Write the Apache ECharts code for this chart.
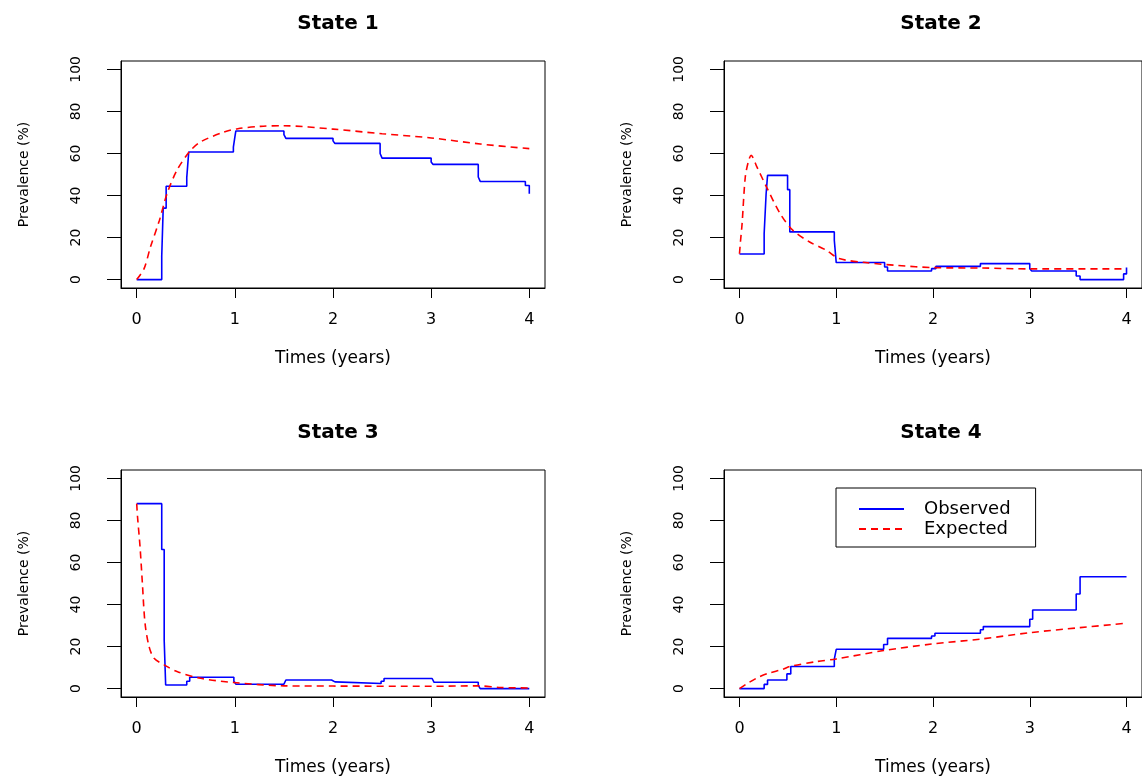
<!DOCTYPE html>
<html>
<head>
<meta charset="utf-8">
<title>Prevalence by state</title>
<script src="https://cdn.jsdelivr.net/npm/echarts@6/dist/echarts.min.js"></script>
<style>
    html, body {margin: 0; padding: 0; background: #fff;}
    #chartDiv {width: 1142px; height: 777px;}
</style>
</head>
<body>
<div id="chartDiv"></div>
<script>
var stateNames = ['State 1', 'State 2', 'State 3', 'State 4'];
var xTicks = [0, 1, 2, 3, 4];
var yTicks = [0, 20, 40, 60, 80, 100];

// observed prevalence (step) - change times and new values
var obsTime1 = [0, 0.255, 0.27, 0.30, 0.51, 0.53, 0.985, 1.0, 1.01, 1.50, 1.52, 2.0, 2.02, 2.48, 2.5, 3.0, 3.02, 3.48, 3.5, 3.96, 4.0];
var obsValue1 = [0, 11, 34, 44.4, 48.5, 60.7, 63, 67.8, 70.7, 69, 67.2, 66, 64.8, 60, 57.8, 56, 54.8, 48.8, 46.7, 44.8, 40.9];
var obsTime2 = [0, 0.255, 0.275, 0.29, 0.497, 0.52, 0.98, 1.0, 1.5, 1.53, 1.985, 2.03, 2.49, 3.0, 3.02, 3.48, 3.52, 3.97, 4.0];
var obsValue2 = [12.2, 21.9, 40.6, 49.6, 42.8, 22.7, 18.7, 8.1, 6.0, 4.1, 5.2, 6.3, 7.6, 5.2, 4.1, 1.7, 0, 2.7, 5.7];
var obsTime3 = [0, 0.255, 0.28, 0.295, 0.51, 0.54, 0.99, 1.01, 1.5, 1.52, 1.985, 2.02, 2.49, 2.52, 3.01, 3.03, 3.48, 3.5, 4.0];
var obsValue3 = [88, 66.2, 23.1, 1.7, 3.5, 5.4, 3.5, 2.1, 3.0, 4.1, 3.2, 2.4, 3.5, 4.8, 3.9, 3.0, 1.5, 0, 0.3];
var obsTime4 = [0, 0.255, 0.29, 0.49, 0.53, 0.98, 1.0, 1.49, 1.53, 1.985, 2.02, 2.49, 2.52, 3.0, 3.03, 3.48, 3.52, 4.0];
var obsValue4 = [0, 2, 4.1, 7, 10.5, 14, 18.7, 21, 23.9, 25, 26.3, 28, 29.5, 33, 37.4, 45, 53.2, 53.2];

// expected prevalence (model)
var expTime1 = [0, 0.075, 0.14, 0.23, 0.31, 0.41, 0.54, 0.65, 0.89, 1.03, 1.26, 1.5, 2.0, 2.5, 3.0, 3.5, 4.0];
var expValue1 = [0, 5.2, 15.5, 28, 41, 52, 61, 65.5, 70.2, 71.8, 72.9, 73.2, 71.6, 69.4, 67.4, 64.5, 62.3];
var expTime2 = [0, 0.01, 0.027, 0.06, 0.095, 0.12, 0.18, 0.28, 0.42, 0.55, 0.725, 0.9, 1.03, 1.3, 1.64, 2.0, 2.5, 3.0, 4.0];
var expValue2 = [12.3, 18, 26.6, 48.8, 56.7, 59.1, 53.6, 44, 31.4, 23.5, 17.9, 13.9, 10, 8.1, 6.7, 5.7, 5.5, 5.1, 5.1];
var expTime3 = [0, 0.008, 0.034, 0.058, 0.085, 0.126, 0.177, 0.28, 0.41, 0.65, 0.99, 1.5, 2.0, 3.0, 3.48, 3.71, 4.0];
var expValue3 = [88, 82, 67.5, 50, 31, 20, 14.4, 11.3, 8.1, 4.9, 2.9, 1.3, 1.2, 1.1, 1.3, 0.5, 0.3];
var expTime4 = [0, 0.1, 0.2, 0.3, 0.45, 0.52, 0.79, 1.0, 1.49, 1.985, 2.5, 3.0, 3.52, 4.0];
var expValue4 = [0, 3, 5.5, 7.3, 9.2, 10.5, 12.8, 14.1, 18.1, 21.2, 23.6, 26.6, 29, 31.1];

var obsTimes = [obsTime1, obsTime2, obsTime3, obsTime4];
var obsValues = [obsValue1, obsValue2, obsValue3, obsValue4];
var expTimes = [expTime1, expTime2, expTime3, expTime4];
var expValues = [expValue1, expValue2, expValue3, expValue4];

var FONT = 'DejaVu Sans';

function pairs(t, v) {
    var out = [];
    for (var i = 0; i < t.length; i++) {
        out.push([t[i], v[i]]);
    }
    return out;
}

function loadPrevalence() {
    var chart = echarts.init(document.getElementById('chartDiv'));
    var panelLeft = [121, 724, 121, 724];
    var panelTop = [61, 61, 470, 470];
    var titles = [], grids = [], xAxes = [], yAxes = [], series = [];

    for (var i = 0; i < 4; i++) {
        titles.push({
            text: stateNames[i],
            left: panelLeft[i] + 212,
            top: panelTop[i] - 52,
            textAlign: 'center',
            textStyle: {fontFamily: FONT, fontWeight: 'bold', fontSize: 20, color: '#000'}
        });
        grids.push({
            left: panelLeft[i], top: panelTop[i], width: 424, height: 227,
            show: true, borderColor: '#000', borderWidth: 1, backgroundColor: 'transparent'
        });
        xAxes.push({
            type: 'value', gridIndex: i, min: -0.16, max: 4.16,
            name: 'Times (years)', nameLocation: 'middle', nameGap: 62,
            nameTextStyle: {fontFamily: FONT, fontSize: 17, color: '#000'},
            axisLine: {show: true, onZero: false, lineStyle: {color: '#000', width: 1}},
            axisTick: {show: true, inside: false, length: 10, customValues: xTicks, lineStyle: {color: '#000'}},
            axisLabel: {customValues: xTicks, margin: 24, fontFamily: FONT, fontSize: 16, color: '#000'},
            splitLine: {show: false}
        });
        yAxes.push({
            type: 'value', gridIndex: i, min: -4, max: 104,
            name: 'Prevalence (%)', nameLocation: 'middle', nameGap: 90,
            nameTextStyle: {fontFamily: FONT, fontSize: 14, color: '#000'},
            axisLine: {show: true, onZero: false, lineStyle: {color: '#000', width: 1}},
            axisTick: {show: true, inside: false, length: 14, customValues: yTicks, lineStyle: {color: '#000'}},
            axisLabel: {customValues: yTicks, rotate: 90, margin: 38, fontFamily: FONT, fontSize: 14, color: '#000'},
            splitLine: {show: false}
        });
        series.push({
            name: 'Observed', type: 'line', xAxisIndex: i, yAxisIndex: i,
            step: 'end', symbol: 'none', animation: false,
            lineStyle: {color: '#0000ff', width: 1.6},
            itemStyle: {color: '#0000ff'},
            data: pairs(obsTimes[i], obsValues[i])
        });
        series.push({
            name: 'Expected', type: 'line', xAxisIndex: i, yAxisIndex: i,
            smooth: 0.3, symbol: 'none', animation: false,
            lineStyle: {color: '#ff0000', width: 1.6, type: [7, 5]},
            itemStyle: {color: '#ff0000'},
            data: pairs(expTimes[i], expValues[i])
        });
    }

    var option = {
        backgroundColor: '#fff',
        animation: false,
        title: titles,
        grid: grids,
        xAxis: xAxes,
        yAxis: yAxes,
        legend: {
            data: ['Observed', 'Expected'],
            orient: 'vertical',
            left: 836, top: 488,
            padding: [12, 25, 9, 22],
            itemGap: 2, itemWidth: 45, itemHeight: 14,
            borderColor: '#000', borderWidth: 1,
            itemStyle: {color: 'transparent', borderWidth: 0},
            textStyle: {fontFamily: FONT, fontSize: 18, color: '#000', padding: [0, 0, 0, 15]}
        },
        series: series
    };
    chart.setOption(option);
}

loadPrevalence();
</script>
</body>
</html>
